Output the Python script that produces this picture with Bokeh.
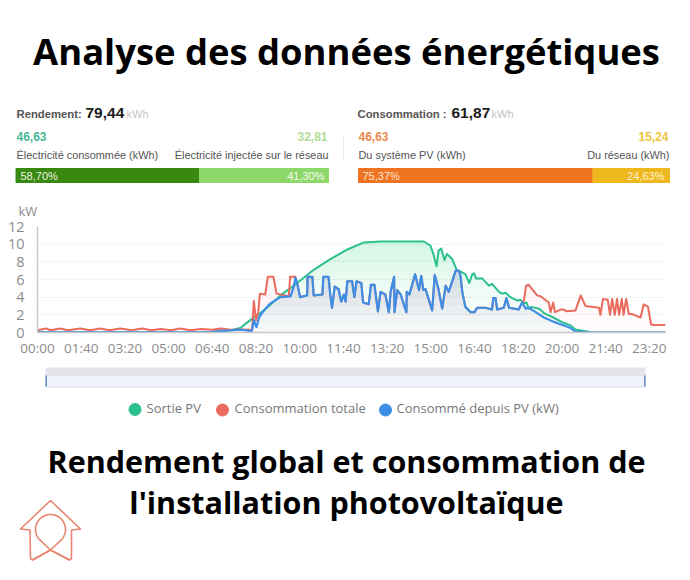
import numpy as np
from bokeh.embed import file_html
from bokeh.resources import INLINE
from bokeh.plotting import figure
from bokeh.layouts import column, row
from bokeh.models import Range1d, FixedTicker
from bokeh.core.properties import value

# ---------- data ----------
pv_t = [0, 380, 400, 420, 442, 464, 487, 518, 556, 594, 632, 670, 709, 747, 785, 838, 884, 899, 907, 913, 918, 924, 931, 937, 949, 960, 968,
        979, 988, 995, 999, 1004, 1018, 1033, 1040, 1056, 1063, 1071, 1082, 1098, 1105, 1113, 1119, 1124, 1130, 1148, 1159, 1180, 1204, 1220, 1231, 1270, 1437]
pv_v = [0.02, 0.03, 0.08, 0.18, 0.25, 0.5, 1.4, 2.5, 4.2, 5.6, 7.1, 8.3, 9.4, 10.2, 10.3, 10.3, 10.3, 9.85, 8.7, 7.5, 9.3, 9.5, 8.2, 8.9, 8.3, 7.0, 6.9,
        6.6, 5.6, 6.6, 6.7, 6.1, 6.1, 5.3, 5.5, 4.6, 4.4, 4.5, 4.0, 3.6, 3.7, 3.3, 3.4, 2.7, 2.9, 2.7, 2.2, 1.7, 1.1, 0.8, 0.35, 0.0, 0.0]

used_t = [0, 380, 400, 420, 442, 464, 487, 491, 495, 501, 507, 518, 533, 556, 579, 587, 590, 594, 601, 617, 618, 629, 632, 652, 654, 666, 670, 674, 680, 689, 695, 701, 705, 709, 720, 725, 730, 741, 745, 758, 763, 771, 779, 785, 796, 804, 808, 816, 817, 823, 831, 844, 845, 851, 864, 873, 878, 883, 888, 903, 909, 918, 926, 934, 941, 957, 964, 968,
          972, 979, 991, 1000, 1006, 1025, 1040, 1043, 1048, 1052, 1067, 1073, 1079, 1101, 1109, 1117, 1124, 1140, 1159, 1182, 1205, 1220, 1231, 1270, 1437]
used_v = [0.02, 0.03, 0.08, 0.18, 0.23, 0.34, 0.15, 0.23, 1.4, 0.6, 1.7, 2.5, 3.3, 4.0, 4.1, 5.3, 6.2, 5.6, 4.0, 4.2, 6.3, 6.3, 4.2, 4.3, 6.3, 6.3, 4.2, 2.8, 5.2, 4.9, 3.5, 4.3, 3.5, 5.8, 5.8, 4.0, 5.8, 5.6, 3.4, 3.2, 5.4, 5.4, 2.4, 4.6, 4.3, 2.3, 4.6, 6.3, 2.3, 4.8, 4.3, 2.3, 4.6, 4.3, 6.6, 4.8, 6.4, 4.8, 4.9, 2.5, 6.5, 4.8, 2.7, 5.3, 4.6, 7.0, 7.0, 6.4,
          4.6, 2.9, 2.3, 2.3, 2.8, 2.8, 2.6, 3.9, 3.9, 2.6, 2.8, 3.9, 2.8, 2.6, 3.4, 2.7, 2.8, 2.3, 1.7, 1.2, 0.8, 0.5, 0.1, 0.0, 0.0]

total_t = [0, 20, 30, 52, 70, 98, 120, 144, 165, 190, 215, 240, 260, 282, 305, 327, 350, 373, 400, 419, 442, 464, 487, 491, 495, 500, 505, 509, 521, 527, 540, 547, 575, 578, 590, 594]
total_v = [0.25, 0.45, 0.25, 0.45, 0.25, 0.45, 0.25, 0.45, 0.25, 0.45, 0.25, 0.45, 0.25, 0.4, 0.25, 0.45, 0.25, 0.4, 0.3, 0.45, 0.3, 0.34, 0.3, 0.25, 3.6, 1.4, 2.3, 4.4, 4.3, 6.3, 6.3, 4.4, 4.1, 6.3, 6.3, 5.6]
evening_t = [1109, 1113, 1118, 1124, 1143, 1151, 1170, 1174, 1180, 1184, 1197, 1204, 1211, 1231, 1243, 1254, 1285, 1288, 1294, 1305, 1310, 1315, 1321, 1326, 1331, 1337, 1341, 1347, 1353, 1358, 1365, 1380, 1387, 1397, 1404, 1412, 1437]
evening_v = [3.4, 3.6, 5.3, 5.4, 4.2, 4.1, 3.4, 2.3, 3.4, 2.3, 2.6, 2.6, 2.4, 2.5, 4.2, 3.0, 2.8, 2.0, 3.8, 3.7, 2.0, 3.8, 2.0, 3.8, 2.0, 3.8, 2.0, 3.8, 2.1, 2.1, 2.0, 1.7, 3.2, 2.9, 0.9, 0.85, 0.85]

tick_minutes = [0, 100, 200, 300, 400, 500, 600, 700, 800, 900, 1000, 1100, 1200, 1300, 1400]
tick_labels = ["00:00", "01:40", "03:20", "05:00", "06:40", "08:20", "10:00", "11:40", "13:20", "15:00", "16:40", "18:20", "20:00", "21:40", "23:20"]
kw_ticks = [0, 2, 4, 6, 8, 10, 12]

legend_names = ["Sortie PV", "Consommation totale", "Consommé depuis PV (kW)"]
left_shares = [58.70, 41.30]
right_shares = [75.37, 24.63]

# ---------- helpers ----------
SANS = "Liberation Sans"
OPEN = "Open Sans"
GREEN, RED, BLUE = "#2cc08d", "#ea6a5d", "#3d8ee6"


def page_fig(top, h):
    f = figure(width=690, height=h, x_range=Range1d(0, 690), y_range=Range1d(top + h, top),
               output_backend="svg", toolbar_location=None, min_border=0,
               x_axis_type=None, y_axis_type=None, outline_line_color=None)
    f.grid.visible = False
    return f


def txt(f, x, y, s, size, color="#555555", font=SANS, style="normal", align="left"):
    f.text([x], [y], text=[s], text_font=value(font), text_font_size=f"{size}px", text_font_style=style,
           text_color=color, text_align=align, text_baseline="middle")


# ---------- header ----------
head = page_fig(0, 218)
txt(head, 346, 50, "Analyse des données énergétiques", 36.4, "#000000", OPEN, "bold", "center")

txt(head, 16, 113, "Rendement:", 11.3, "#555555", SANS, "bold")
txt(head, 85, 112, "79,44", 15.5, "#1a1a1a", SANS, "bold")
txt(head, 126, 113, "kWh", 11, "#c4c4c4")
txt(head, 16, 136, "46,63", 12, "#45b896", SANS, "bold")
txt(head, 327, 136, "32,81", 12, "#b2dc96", SANS, "bold", "right")
txt(head, 16, 154, "Électricité consommée (kWh)", 10.9)
txt(head, 328, 154, "Électricité injectée sur le réseau", 10.9, align="right")

txt(head, 357, 113, "Consommation :", 11.3, "#555555", SANS, "bold")
txt(head, 451, 112, "61,87", 15.5, "#1a1a1a", SANS, "bold")
txt(head, 491, 113, "kWh", 11, "#c4c4c4")
txt(head, 358, 136, "46,63", 12, "#ee8a4c", SANS, "bold")
txt(head, 668, 136, "15,24", 12, "#efc440", SANS, "bold", "right")
txt(head, 358, 154, "Du système PV (kWh)", 10.9)
txt(head, 669, 154, "Du réseau (kWh)", 10.9, align="right")

head.extra_x_ranges = {
    "left_pct": Range1d(-15.5 / 3.125, (690 - 15.5) / 3.125),
    "right_pct": Range1d(-358 / 3.11, (690 - 358) / 3.11),
}
head.hbar(y=175, height=14, left=[0, left_shares[0]], right=[left_shares[0], 100],
          color=["#39880f", "#8ed86a"], x_range_name="left_pct")
head.hbar(y=175, height=14, left=[0, right_shares[0]], right=[right_shares[0], 100],
          color=["#ee7421", "#efb81f"], x_range_name="right_pct")
txt(head, 20, 175, "58,70%", 11, "#eaf5e2")
txt(head, 324, 175, "41,30%", 11, "#f4fbef", align="right")
txt(head, 362, 175, "75,37%", 11, "#fde3d0")
txt(head, 664, 175, "24,63%", 11, "#fdf2cf", align="right")
head.line([343, 343], [135, 160], line_color="#eeeeee", line_width=1)
txt(head, 18, 210, "kW", 13, "#8c8c8c", OPEN)

# ---------- chart ----------
chart = figure(width=690, height=142, x_range=Range1d(0, 1437), y_range=Range1d(0, 12),
               output_backend="svg", toolbar_location=None, outline_line_color=None,
               min_border_left=37, min_border_right=25, min_border_top=8, min_border_bottom=28)
chart.xaxis.ticker = FixedTicker(ticks=tick_minutes)
chart.xaxis.major_label_overrides = dict(zip(tick_minutes, tick_labels))
chart.yaxis.ticker = FixedTicker(ticks=kw_ticks)
for ax in (chart.xaxis[0], chart.yaxis[0]):
    ax.major_tick_line_color = None
    ax.minor_tick_line_color = None
    ax.axis_line_color = "#c8c8c8"
    ax.axis_line_width = 1.5
    ax.major_label_text_color = "#8c8c8c"
    ax.major_label_text_font = OPEN
chart.xaxis.major_label_text_font_size = "13.5px"
chart.yaxis.major_label_text_font_size = "14.5px"
chart.xaxis.major_label_standoff = 0
chart.yaxis.major_label_standoff = 7
chart.xgrid.visible = False
chart.ygrid.grid_line_color = "#e9e9e9"
chart.ygrid.grid_line_dash = "2 2"


def gradient(t, v, color, levels, alpha):
    t = np.array(t, float)
    v = np.array(v, float)
    for lv in levels:
        chart.varea(t, np.minimum(lv, v), v, fill_color=color, fill_alpha=alpha)


total_all_t = total_t + [a for a in used_t if 594 < a < 1109] + evening_t
total_all_v = total_v + [b for a, b in zip(used_t, used_v) if 594 < a < 1109] + evening_v

gradient(total_all_t, total_all_v, RED, [0, 1, 2, 3], 0.012)
gradient(pv_t, pv_v, GREEN, [0, 2, 4, 5, 6, 7, 8, 9, 10], 0.024)
gradient(used_t, used_v, "#a9b6e6", [0, 1, 2, 3, 4, 5, 6], 0.045)

chart.line(pv_t, pv_v, line_color=GREEN, line_width=2, line_join="round")
chart.line(total_all_t, total_all_v, line_color=RED, line_width=2, line_join="round")
chart.line(used_t, used_v, line_color=BLUE, line_width=2.2, line_join="round")

# ---------- footer ----------
foot = page_fig(360, 220)
foot.quad(left=[45], right=[645], top=[367], bottom=[374.5], fill_color="#e3e5ea", line_color=None)
foot.quad(left=[45], right=[645], top=[374.5], bottom=[386.5], fill_color="#f0f3fd", line_color="#d8dcea", line_width=1)
foot.quad(left=[45, 643.5], right=[46.5, 645], top=[375, 375], bottom=[386, 386], fill_color="#6f8fd0", line_color=None)

foot.scatter([134.5], [409], size=12, color=GREEN)
foot.scatter([222], [409.5], size=12, color=RED)
foot.scatter([385], [409.5], size=12, color=BLUE)
txt(foot, 146, 407, legend_names[0], 13, "#777777", OPEN)
txt(foot, 234, 407, legend_names[1], 13, "#777777", OPEN)
txt(foot, 396, 407, legend_names[2], 13, "#777777", OPEN)

txt(foot, 346, 460, "Rendement global et consommation de", 30.5, "#000000", OPEN, "bold", "center")
txt(foot, 346, 501, "l'installation photovoltaïque", 30.5, "#000000", OPEN, "bold", "center")

LOGO = "#e8866f"
house_x = [50, 80, 71, 71, 69, 50, 32, 30, 29.5, 20, 50]
house_y = [500, 528.5, 529.5, 558, 559.5, 549.5, 559.5, 558, 529.5, 528.5, 500]
foot.line(house_x, house_y, line_color=LOGO, line_width=1.6, line_join="round")
ang = np.linspace(np.pi * 1.22, -np.pi * 0.22, 40)
loop_x = np.concatenate([[69, 50], 50 + 15 * np.cos(ang), [50, 32]])
loop_y = np.concatenate([[559.5, 549.5], 529 - 15 * np.sin(ang), [549.5, 559.5]])
foot.line(loop_x, loop_y, line_color=LOGO, line_width=1.6, line_join="round")

page = column(head, row(chart), foot, spacing=0)
open("out.html", "w").write(file_html(page, INLINE))
